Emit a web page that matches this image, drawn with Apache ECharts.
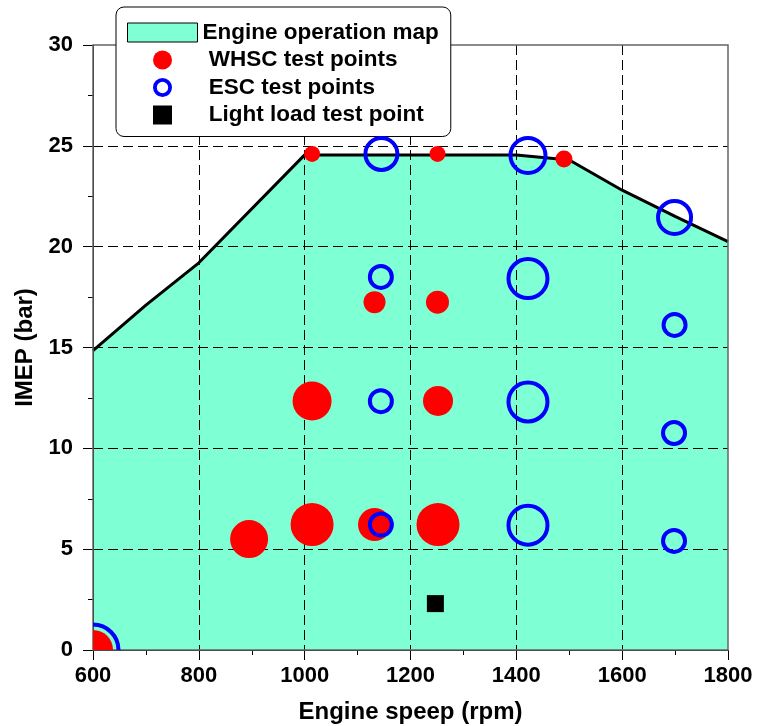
<!DOCTYPE html>
<html>
<head>
<meta charset="utf-8">
<title>Engine operation map</title>
<script src="https://cdn.jsdelivr.net/npm/echarts@6/dist/echarts.min.js"></script>
<style>
  html, body { margin: 0; padding: 0; background: #fff; }
  #chart { width: 757px; height: 726px; }
</style>
</head>
<body>
<div id="chart"></div>
<script>
// Full-load boundary of the engine operation map
const mapSpeed = [600, 700, 800, 1000, 1400, 1500, 1600, 1700, 1800];
const mapImep  = [14.85, 17.1, 19.2, 24.55, 24.55, 24.3, 22.8, 21.5, 20.25];

// WHSC test points
const whscSpeed = [600, 895, 1014, 1132, 1252, 1014, 1252, 1132, 1251, 1014, 1251, 1490];
const whscImep  = [0, 5.5, 6.22, 6.22, 6.22, 12.35, 12.35, 17.25, 17.25, 24.6, 24.6, 24.35];

// ESC test points
const escSpeed = [600, 1144, 1422, 1698, 1144, 1422, 1698, 1144, 1422, 1699, 1145, 1422, 1699];
const escImep  = [0, 6.22, 6.19, 5.41, 12.34, 12.3, 10.76, 18.5, 18.42, 16.12, 24.6, 24.52, 21.45];

// Light load test point
const lightSpeed = [1247];
const lightImep  = [2.3];

// Marker diameters (px), one per point
const whscSize = [40, 38, 43, 33, 43, 39, 30, 22, 23, 16, 16, 17];
const escSize  = [51, 22, 39, 22, 22, 39, 22, 22, 39, 22, 32, 35, 33];

const FONT = '"Liberation Sans", Arial, sans-serif';
const MAP_COLOR = '#7FFFD4';

const zip = (xs, ys) => xs.map((x, i) => [x, ys[i]]);

const chart = echarts.init(document.getElementById('chart'), null, { renderer: 'canvas' });

const commonAxis = {
  type: 'value',
  nameLocation: 'middle',
  nameTextStyle: { fontFamily: FONT, fontWeight: 'bold', fontSize: 24, color: '#000' },
  axisLine: { show: true, onZero: false, lineStyle: { color: '#000', width: 1 } },
  axisTick: { show: true, length: 10, lineStyle: { color: '#000', width: 1 } },
  minorTick: { show: true, splitNumber: 2, length: 5, lineStyle: { color: '#000', width: 1 } },
  axisLabel: {
    fontFamily: FONT, fontWeight: 'bold', fontSize: 22, color: '#000',
    formatter: v => String(v)
  },
  splitLine: {
    show: true, showMinLine: false, showMaxLine: false,
    lineStyle: { type: [10, 5], color: '#000', width: 1 }
  },
  z: 2
};

const ringPath = 'path://M0,10A10,10,0,1,1,20,10A10,10,0,1,1,0,10ZM4,10A6,6,0,1,0,16,10A6,6,0,1,0,4,10Z';
const squarePath = 'path://M0,0L10,0L10,10L0,10Z';

const option = {
  animation: false,
  backgroundColor: '#fff',
  grid: {
    left: 93, right: 29, top: 45, bottom: 76,
    show: true, borderColor: '#666', borderWidth: 1.5, backgroundColor: 'transparent',
    outerBoundsMode: 'none', z: 3
  },
  legend: {
    orient: 'vertical',
    left: 116, top: 7,
    padding: [14, 12, 10, 11],
    itemGap: 4.5,
    itemWidth: 70,
    itemHeight: 19,
    symbolKeepAspect: true,
    backgroundColor: '#fff',
    borderColor: '#000',
    borderWidth: 1,
    borderRadius: 8,
    selectedMode: false,
    textStyle: { fontFamily: FONT, fontWeight: 'bold', fontSize: 22.5, color: '#000' },
    formatter: name => (name === 'Engine operation map' ? name : ' ' + name),
    data: [
      { name: 'Engine operation map', icon: 'rect',
        itemStyle: { color: MAP_COLOR, borderColor: '#000', borderWidth: 1, opacity: 1 } },
      { name: 'WHSC test points', icon: 'circle',
        itemStyle: { color: '#ff0000', borderWidth: 0, opacity: 1 } },
      { name: 'ESC test points', icon: ringPath,
        itemStyle: { color: '#0000ff', borderWidth: 0, opacity: 1 } },
      { name: 'Light load test point', icon: squarePath,
        itemStyle: { color: '#000000', borderWidth: 0, opacity: 1 } }
    ]
  },
  xAxis: Object.assign({}, commonAxis, {
    min: 600, max: 1800, interval: 200,
    name: 'Engine speep (rpm)', nameGap: 50,
    axisLabel: Object.assign({}, commonAxis.axisLabel, { margin: 15 })
  }),
  yAxis: Object.assign({}, commonAxis, {
    min: 0, max: 30, interval: 5,
    name: 'IMEP (bar)', nameGap: 56,
    axisLabel: Object.assign({}, commonAxis.axisLabel, { margin: 20 })
  }),
  series: [
    {
      name: 'Engine operation map',
      type: 'line',
      data: zip(mapSpeed, mapImep),
      symbol: 'none',
      lineStyle: { color: '#000', width: 3 },
      itemStyle: { color: '#000' },
      areaStyle: { color: MAP_COLOR, opacity: 1 },
      z: 1,
      silent: true
    },
    {
      name: 'WHSC test points',
      type: 'custom',
      clip: true,
      z: 3,
      itemStyle: { color: '#ff0000', opacity: 1 },
      data: zip(whscSpeed, whscImep),
      renderItem: (params, api) => {
        const p = api.coord([api.value(0), api.value(1)]);
        return {
          type: 'circle',
          shape: { cx: p[0], cy: p[1], r: whscSize[params.dataIndex] / 2 },
          style: { fill: '#ff0000' }
        };
      }
    },
    {
      name: 'ESC test points',
      type: 'custom',
      clip: true,
      z: 4,
      itemStyle: { color: '#0000ff', opacity: 1 },
      data: zip(escSpeed, escImep),
      renderItem: (params, api) => {
        const p = api.coord([api.value(0), api.value(1)]);
        return {
          type: 'circle',
          shape: { cx: p[0], cy: p[1], r: escSize[params.dataIndex] / 2 },
          style: { fill: 'none', stroke: '#0000ff', lineWidth: 4 }
        };
      }
    },
    {
      name: 'Light load test point',
      type: 'scatter',
      symbol: 'rect',
      symbolSize: 17,
      z: 4,
      itemStyle: { color: '#000000', opacity: 1 },
      data: zip(lightSpeed, lightImep)
    }
  ]
};

chart.setOption(option);
</script>
</body>
</html>
